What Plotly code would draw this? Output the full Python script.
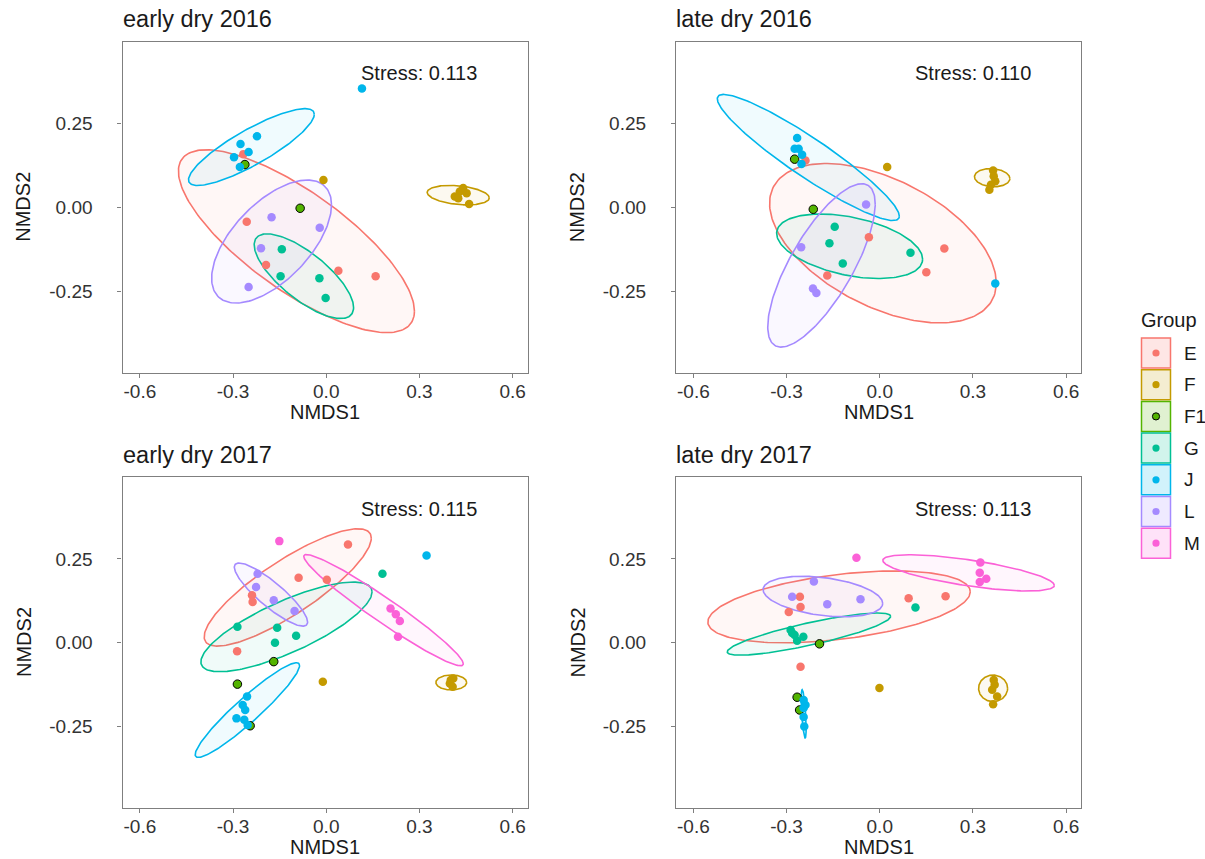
import numpy as np
import plotly.graph_objects as go

W_FIG, H_FIG = 1205, 859

groups = ["E", "F", "F1", "G", "J", "L", "M"]
colors = {"E": "#F8766D", "F": "#C49A00", "F1": "#53B400", "G": "#00C094",
          "J": "#00B6EB", "L": "#A58AFF", "M": "#FB61D7"}

panel_titles = ["early dry 2016", "late dry 2016", "early dry 2017", "late dry 2017"]
stress_labels = ["Stress: 0.113", "Stress: 0.110", "Stress: 0.115", "Stress: 0.113"]

x_ticks = [-0.6, -0.3, 0.0, 0.3, 0.6]
x_ticktext = ["-0.6", "-0.3", "0.0", "0.3", "0.6"]
y_ticks = [-0.25, 0.0, 0.25]
y_ticktext = ["-0.25", "0.00", "0.25"]

# ---------------- early dry 2016 ----------------
ed16_group = ["E"] * 5 + ["F"] * 7 + ["F1"] * 2 + ["G"] * 4 + ["J"] * 6 + ["L"] * 4
ed16_x = [-0.267, -0.256, -0.194, 0.039, 0.159,
          -0.009, 0.430, 0.441, 0.414, 0.452, 0.460, 0.425,
          -0.262, -0.084,
          -0.143, -0.147, -0.022, -0.002,
          0.115, -0.223, -0.276, -0.250, -0.297, -0.278,
          -0.176, -0.021, -0.210, -0.250]
ed16_y = [0.159, -0.042, -0.171, -0.188, -0.204,
          0.082, 0.048, 0.058, 0.033, 0.043, 0.011, 0.028,
          0.128, -0.002,
          -0.124, -0.204, -0.210, -0.269,
          0.354, 0.212, 0.189, 0.165, 0.150, 0.121,
          -0.029, -0.060, -0.121, -0.236]
ed16_ell_group = ["E", "F", "G", "J", "L"]
ed16_ell_cx = [-0.096, 0.425, -0.072, -0.241, -0.176]
ed16_ell_cy = [-0.100, 0.037, -0.204, 0.180, -0.101]
ed16_ell_w = [0.380, 0.100, 0.160, 0.2025, 0.193]
ed16_ell_h = [0.272, 0.029, 0.126, 0.1144, 0.183]
ed16_ell_r = [-0.765, -0.28, -0.74, 0.852, 0.596]

# ---------------- late dry 2016 ----------------
ld16_group = ["E"] * 5 + ["F"] * 6 + ["F1"] * 2 + ["G"] * 4 + ["J"] * 6 + ["L"] * 4
ld16_x = [-0.239, -0.035, 0.208, 0.150, -0.169,
          0.024, 0.365, 0.367, 0.372, 0.358, 0.353,
          -0.274, -0.214,
          -0.145, -0.162, -0.119, 0.099,
          -0.266, -0.274, -0.261, -0.250, -0.252, 0.372,
          -0.044, -0.253, -0.215, -0.204]
ld16_y = [0.140, -0.088, -0.122, -0.192, -0.202,
          0.121, 0.110, 0.093, 0.078, 0.068, 0.053,
          0.144, -0.005,
          -0.057, -0.106, -0.166, -0.134,
          0.207, 0.175, 0.175, 0.157, 0.130, -0.226,
          0.009, -0.118, -0.241, -0.254]
ld16_ell_group = ["E", "F", "G", "J", "L"]
ld16_ell_cx = [0.0103, 0.362, -0.097, -0.230, -0.1876]
ld16_ell_cy = [-0.106, 0.089, -0.115, 0.149, -0.172]
ld16_ell_w = [0.365, 0.057, 0.235, 0.293, 0.173]
ld16_ell_h = [0.237, 0.027, 0.096, 0.1876, 0.243]
ld16_ell_r = [-0.50, -0.10, -0.40, -0.93, 0.75]

# ---------------- early dry 2017 ----------------
ed17_group = ["E"] * 6 + ["F"] * 5 + ["F1"] * 3 + ["G"] * 5 + ["J"] * 7 + ["L"] * 4 + ["M"] * 5
ed17_x = [0.070, -0.089, 0.002, -0.239, -0.237, -0.287,
          -0.011, 0.401, 0.407, 0.398, 0.409,
          -0.169, -0.286, -0.245,
          0.181, -0.286, -0.158, -0.097, -0.165,
          0.323, -0.255, -0.269, -0.261, -0.289, -0.264, -0.253,
          -0.221, -0.226, -0.169, -0.102,
          -0.151, 0.207, 0.224, 0.237, 0.231]
ed17_y = [0.293, 0.194, 0.188, 0.142, 0.122, -0.025,
          -0.116, -0.111, -0.131, -0.121, -0.106,
          -0.056, -0.123, -0.247,
          0.206, 0.048, 0.045, 0.021, 0.000,
          0.260, -0.160, -0.185, -0.200, -0.225, -0.229, -0.245,
          0.206, 0.166, 0.127, 0.095,
          0.303, 0.102, 0.085, 0.065, 0.018]
ed17_ell_group = ["E", "F", "G", "J", "L", "M"]
ed17_ell_cx = [-0.124, 0.4025, -0.128, -0.254, -0.178, 0.1845]
ed17_ell_cy = [0.165, -0.118, 0.0475, -0.2003, 0.1437, 0.0975]
ed17_ell_w = [0.269, 0.0495, 0.2756, 0.168, 0.118, 0.2568]
ed17_ell_h = [0.1747, 0.0223, 0.1336, 0.141, 0.094, 0.1657]
ed17_ell_r = [0.84, 0.0, 0.78, 0.94, -0.87, -0.965]

# ---------------- late dry 2017 ----------------
ld17_group = ["E"] * 6 + ["F"] * 6 + ["F1"] * 3 + ["G"] * 6 + ["J"] * 5 + ["L"] * 4 + ["M"] * 5
ld17_x = [-0.257, -0.255, -0.293, 0.093, 0.212, -0.255,
          -0.001, 0.367, 0.362, 0.378, 0.365, 0.370,
          -0.194, -0.266, -0.258,
          0.115, -0.287, -0.274, -0.246, -0.266, -0.282,
          -0.245, -0.239, -0.245, -0.245, -0.243,
          -0.212, -0.282, -0.169, -0.062,
          -0.075, 0.324, 0.322, 0.343, 0.322]
ld17_y = [0.137, 0.107, 0.092, 0.133, 0.139, -0.071,
          -0.1345, -0.111, -0.140, -0.160, -0.183, -0.125,
          -0.003, -0.162, -0.200,
          0.105, 0.038, 0.023, 0.018, 0.006, 0.029,
          -0.170, -0.185, -0.194, -0.221, -0.249,
          0.183, 0.137, 0.115, 0.130,
          0.2535, 0.239, 0.209, 0.191, 0.181]
ld17_ell_group = ["E", "F", "G", "J", "L", "M"]
ld17_ell_cx = [-0.131, 0.365, -0.228, -0.245, -0.183, 0.286]
ld17_ell_cy = [0.107, -0.1355, 0.026, -0.2117, 0.138, 0.2084]
ld17_ell_w = [0.4225, 0.0467, 0.263, 0.008, 0.1925, 0.276]
ld17_ell_h = [0.107, 0.0396, 0.0628, 0.072, 0.0604, 0.054]
ld17_ell_r = [0.42, 0.0, 0.84, -0.60, -0.34, -0.69]

panels = [
    (ed16_group, ed16_x, ed16_y, ed16_ell_group, ed16_ell_cx, ed16_ell_cy, ed16_ell_w, ed16_ell_h, ed16_ell_r),
    (ld16_group, ld16_x, ld16_y, ld16_ell_group, ld16_ell_cx, ld16_ell_cy, ld16_ell_w, ld16_ell_h, ld16_ell_r),
    (ed17_group, ed17_x, ed17_y, ed17_ell_group, ed17_ell_cx, ed17_ell_cy, ed17_ell_w, ed17_ell_h, ed17_ell_r),
    (ld17_group, ld17_x, ld17_y, ld17_ell_group, ld17_ell_cx, ld17_ell_cy, ld17_ell_w, ld17_ell_h, ld17_ell_r),
]

# ---------------- layout geometry (pixels) ----------------
COL_L = [122.5, 676.0]
COL_R = [527.5, 1081.0]
ROW_T = [41.5, 477.0]
ROW_B = [373.0, 808.0]
X_RANGE = [-0.656, 0.648]
Y_RANGE = [-0.492, 0.494]

FONT = "Liberation Sans, Arial, Helvetica, sans-serif"
AXCOL = "#7f7f7f"


def hex_rgba(h, a):
    h = h.lstrip("#")
    return "rgba(%d,%d,%d,%.3f)" % (int(h[0:2], 16), int(h[2:4], 16), int(h[4:6], 16), a)


def px_x(p):
    return p / W_FIG


def px_y(p):
    return 1 - p / H_FIG


fig = go.Figure()
annotations = []
shapes = []
layout_axes = {}

t = np.linspace(0, 2 * np.pi, 200)

for i, (grp, xs, ys, eg, ecx, ecy, ew, eh, er) in enumerate(panels):
    row, col = divmod(i, 2)
    sfx = "" if i == 0 else str(i + 1)
    xa, ya = "x" + sfx, "y" + sfx

    # ellipses
    for g, cx, cy, w, h, r in zip(eg, ecx, ecy, ew, eh, er):
        ex = cx + w * np.cos(t)
        ey = cy + h * (r * np.cos(t) + np.sqrt(1 - r * r) * np.sin(t))
        fig.add_trace(go.Scatter(x=ex, y=ey, mode="lines", fill="toself",
                                 fillcolor=hex_rgba(colors[g], 0.06),
                                 line=dict(color=colors[g], width=1.6),
                                 xaxis=xa, yaxis=ya, showlegend=False, hoverinfo="skip"))
    # points
    grp_arr = np.array(grp)
    xs_arr = np.array(xs)
    ys_arr = np.array(ys)
    for g in groups:
        m = grp_arr == g
        if not m.any():
            continue
        if g == "F1":
            mk = dict(color=colors[g], size=8.5, line=dict(color="black", width=1))
        else:
            mk = dict(color=colors[g], size=8.5, line=dict(width=0))
        fig.add_trace(go.Scatter(x=xs_arr[m], y=ys_arr[m], mode="markers", marker=mk,
                                 xaxis=xa, yaxis=ya, showlegend=False, name=g))

    xdom = [px_x(COL_L[col]), px_x(COL_R[col])]
    ydom = [px_y(ROW_B[row]), px_y(ROW_T[row])]
    common = dict(showline=True, mirror=True, linecolor=AXCOL, linewidth=1.3,
                  ticks="outside", ticklen=4, tickwidth=1.1, tickcolor=AXCOL,
                  showgrid=False, zeroline=False, fixedrange=True,
                  tickfont=dict(family=FONT, size=19, color="#333333"))
    layout_axes["xaxis" + sfx] = dict(domain=xdom, range=X_RANGE, anchor=ya,
                                      tickvals=x_ticks, ticktext=x_ticktext,
                                      ticklabelstandoff=-3, **common)
    layout_axes["yaxis" + sfx] = dict(domain=ydom, range=Y_RANGE, anchor=xa,
                                      tickvals=y_ticks, ticktext=y_ticktext,
                                      ticklabelstandoff=21, **common)

    # panel title
    annotations.append(dict(text=panel_titles[i], xref="paper", yref="paper",
                            x=px_x(COL_L[col] - 2), y=px_y(ROW_T[row] - 22),
                            xanchor="left", yanchor="middle", showarrow=False,
                            font=dict(family=FONT, size=23.5, color="#1a1a1a")))
    # stress label
    annotations.append(dict(text=stress_labels[i], xref=xa, yref=ya, x=0.3, y=0.4,
                            xanchor="center", yanchor="middle", showarrow=False,
                            font=dict(family=FONT, size=20, color="#1a1a1a")))
    # axis titles
    annotations.append(dict(text="NMDS1", xref="paper", yref="paper",
                            x=(xdom[0] + xdom[1]) / 2, y=px_y(ROW_B[row] + 39),
                            xanchor="center", yanchor="middle", showarrow=False,
                            font=dict(family=FONT, size=20, color="#1a1a1a")))
    annotations.append(dict(text="NMDS2", xref="paper", yref="paper", textangle=-90,
                            x=px_x(COL_L[col] - 99), y=(ydom[0] + ydom[1]) / 2,
                            xanchor="center", yanchor="middle", showarrow=False,
                            font=dict(family=FONT, size=20, color="#1a1a1a")))

# ---------------- legend (drawn manually, ggplot style) ----------------
LEG_X0, LEG_X1 = 1141.5, 1170.5
LEG_TOP, LEG_STEP, LEG_H = 338.0, 31.7, 30.0
annotations.append(dict(text="Group", xref="paper", yref="paper", x=px_x(1139), y=px_y(320),
                        xanchor="left", yanchor="middle", showarrow=False,
                        font=dict(family=FONT, size=20, color="#1a1a1a")))
for k, g in enumerate(groups):
    top = LEG_TOP + k * LEG_STEP
    shapes.append(dict(type="rect", xref="paper", yref="paper",
                       x0=px_x(LEG_X0), x1=px_x(LEG_X1), y0=px_y(top + LEG_H), y1=px_y(top),
                       fillcolor=hex_rgba(colors[g], 0.18), line=dict(color=colors[g], width=1.5)))
    cxp, cyp, rad = (LEG_X0 + LEG_X1) / 2, top + LEG_H / 2, 3.6
    shapes.append(dict(type="circle", xref="paper", yref="paper",
                       x0=px_x(cxp - rad), x1=px_x(cxp + rad), y0=px_y(cyp + rad), y1=px_y(cyp - rad),
                       fillcolor=colors[g],
                       line=dict(color="black" if g == "F1" else colors[g], width=1 if g == "F1" else 0)))
    annotations.append(dict(text=g, xref="paper", yref="paper", x=px_x(1182), y=px_y(cyp),
                            xanchor="left", yanchor="middle", showarrow=False,
                            font=dict(family=FONT, size=19, color="#1a1a1a")))

fig.update_layout(width=W_FIG, height=H_FIG, margin=dict(l=0, r=0, t=0, b=0),
                  paper_bgcolor="white", plot_bgcolor="white", showlegend=False,
                  annotations=annotations, shapes=shapes, **layout_axes)

fig.write_html("out.html")
